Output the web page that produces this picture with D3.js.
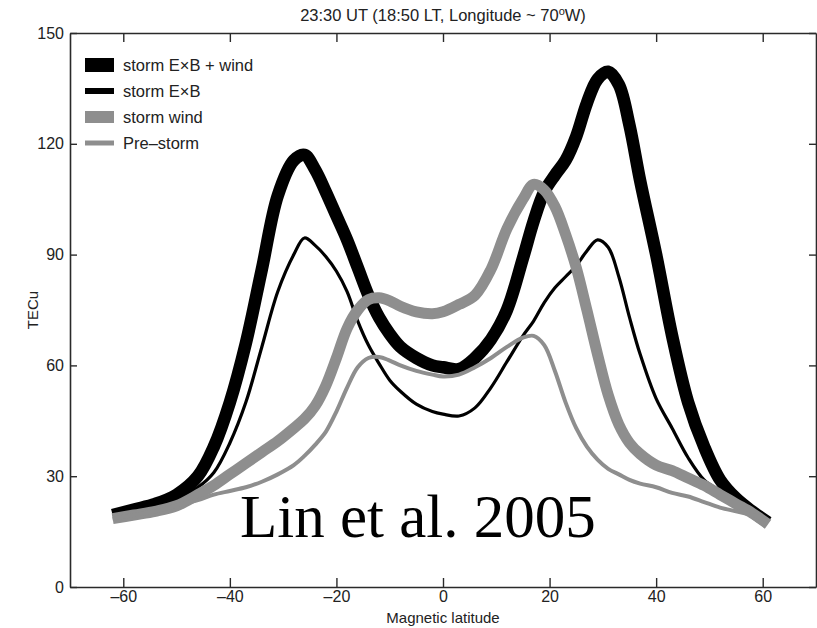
<!DOCTYPE html>
<html>
<head>
<meta charset="utf-8">
<script src="https://cdn.jsdelivr.net/npm/d3@7"></script>
<style>
  body { margin: 0; background: #fff; }
  text { font-family: "Liberation Sans", Arial, sans-serif; }
</style>
</head>
<body>
<svg id="chart"></svg>
<script>
// Magnetic latitude grid shared by all curves
var lat = [-62, -58, -54, -50, -46, -43, -40, -37, -34, -31, -28, -26, -24, -22, -20, -18, -16, -14, -12, -10, -8, -5, -2, 0,
  3, 6, 9, 12, 15, 17, 19, 21, 23, 25, 27, 29, 31, 33, 35, 37, 40, 43, 46, 49, 52, 55, 58, 61];

// TECu
var exbWind = [19.5, 21, 22.5, 25, 30, 38, 50, 66, 86, 106, 115.5, 117, 113, 107, 100.5, 94, 86.5, 79, 73, 68.5, 65, 62, 60, 59.5,
  59, 62, 67, 75, 89, 99, 107, 111.5, 115.5, 122, 131, 137.5, 139.5, 136, 125, 110, 90, 68, 50, 38, 29, 24, 20.5, 17.5];
var exb = [19.5, 21, 22.5, 24, 27, 31, 39, 50, 65, 80, 90, 94.5, 92.5, 89.5, 85.5, 80, 72, 65.5, 60.5, 56, 53, 49.5, 47.5, 46.8,
  46.3, 48.5, 54, 61, 68, 72, 77, 81, 84, 87, 91, 94, 92, 84, 73, 63, 51, 43, 35, 29, 26, 23, 20, 17.5];
var wind = [18.5, 19.5, 20.5, 22, 25, 27.5, 30.5, 33.5, 36.5, 39.5, 43, 45.5, 49, 54.5, 62, 70, 75, 77.8, 78.3, 77.5, 76, 74.5, 74, 74.5,
  76.5, 79, 86, 97, 105, 109, 107.5, 103, 95.5, 86.5, 75, 63, 52, 44, 39, 36, 33, 31.5, 29.5, 27.5, 25, 22.5, 20, 17];
var preStorm = [18.5, 19.5, 20.5, 22, 23.5, 25, 26, 27, 28.5, 30.5, 33, 35.5, 38.5, 42, 47.5, 54, 59.5, 62, 62.3, 61.3, 60, 58.5, 57.5, 57,
  57.5, 59.5, 62, 65, 67.5, 68, 65.5, 58.5, 50, 43, 38, 34.5, 32, 30.5, 29, 28, 27, 25.5, 24.5, 23, 21.5, 20.5, 19.5, 18];

var seriesNames = ["storm E\u00d7B + wind", "storm E\u00d7B", "storm wind", "Pre\u2013storm"];
var xTicks = [-60, -40, -20, 0, 20, 40, 60];
var yTicks = [0, 30, 60, 90, 120, 150];

var W = 817, H = 628;
var margin = {top: 33, right: 1, bottom: 41, left: 70};
var width = W - margin.left - margin.right,
  height = H - margin.top - margin.bottom;

var svg = d3.select("#chart").attr("width", W).attr("height", H);
var g = svg.append("g").attr("transform", "translate(" + margin.left + "," + margin.top + ")");

var x = d3.scaleLinear().domain([-70, 70]).range([0, width]);
var y = d3.scaleLinear().domain([0, 150]).range([height, 0]);

// line styles: colour and width per series, in plotting order
var styles = [
  {color: "#000", w: 12.5, legendW: 14},
  {color: "#000", w: 3.2, legendW: 6},
  {color: "#8e8e8e", w: 11, legendW: 12},
  {color: "#8e8e8e", w: 4, legendW: 5}
];
var allSeries = [exbWind, exb, wind, preStorm];

var line = d3.line()
  .x(function(d) { return x(d[0]); })
  .y(function(d) { return y(d[1]); })
  .curve(d3.curveCatmullRom.alpha(0.5));

allSeries.forEach(function(vals, i) {
  g.append("path")
    .datum(lat.map(function(l, j) { return [l, vals[j]]; }))
    .attr("d", line)
    .style("fill", "none")
    .style("stroke", styles[i].color)
    .style("stroke-width", styles[i].w)
    .style("stroke-linejoin", "round");
});

// axes, matlab style: box with inward ticks
var axisColor = "#2a2a2a";
var xb = g.append("g").attr("transform", "translate(0," + height + ")")
  .call(d3.axisBottom(x).tickValues(xTicks).tickSizeInner(-9).tickSizeOuter(0).tickPadding(4)
    .tickFormat(function(d) { return d < 0 ? "\u2013" + Math.abs(d) : d; }));
var xt = g.append("g")
  .call(d3.axisTop(x).tickValues(xTicks).tickSizeInner(-9).tickSizeOuter(0).tickFormat(""));
var yl = g.append("g")
  .call(d3.axisLeft(y).tickValues(yTicks).tickSizeInner(-7).tickSizeOuter(0).tickPadding(6));
var yr = g.append("g").attr("transform", "translate(" + width + ",0)")
  .call(d3.axisRight(y).tickValues(yTicks).tickSizeInner(-7).tickSizeOuter(0).tickFormat(""));

[xb, xt, yl, yr].forEach(function(a) {
  a.select(".domain").attr("stroke", axisColor).attr("stroke-width", 1.6);
  a.selectAll(".tick line").attr("stroke", axisColor).attr("stroke-width", 1.4);
  a.selectAll("text").style("font-size", "16px").style("fill", "#222")
    .style("font-family", "'Liberation Sans', Arial, sans-serif");
});

// labels
svg.append("text")
  .attr("x", margin.left + x(0)).attr("y", 623)
  .attr("text-anchor", "middle").style("font-size", "15px").style("fill", "#222")
  .text("Magnetic latitude");

svg.append("text")
  .attr("transform", "translate(38," + (margin.top + y(75)) + ") rotate(-90)")
  .attr("text-anchor", "middle").style("font-size", "15px").style("fill", "#222")
  .text("TECu");

var title = svg.append("text")
  .attr("x", margin.left + x(0)).attr("y", 21)
  .attr("text-anchor", "middle").style("font-size", "16.5px").style("fill", "#222");
title.append("tspan").text("23:30 UT (18:50 LT, Longitude ~ 70");
title.append("tspan").attr("dy", -6).style("font-size", "11px").text("o");
title.append("tspan").attr("dy", 6).text("W)");

// legend
var legendRows = [65, 91, 117, 143];
var legend = svg.append("g");
seriesNames.forEach(function(name, i) {
  legend.append("line")
    .attr("x1", 85).attr("x2", 114)
    .attr("y1", legendRows[i]).attr("y2", legendRows[i])
    .style("stroke", styles[i].color)
    .style("stroke-width", styles[i].legendW);
  legend.append("text")
    .attr("x", 123).attr("y", legendRows[i] + 6)
    .style("font-size", "16.5px").style("fill", "#222")
    .text(name);
});

// citation overlay
svg.append("text")
  .attr("x", 240).attr("y", 537)
  .style("font-family", "'Liberation Serif', 'Times New Roman', serif")
  .style("font-size", "61px").style("fill", "#000")
  .text("Lin et al. 2005");
</script>
</body>
</html>
